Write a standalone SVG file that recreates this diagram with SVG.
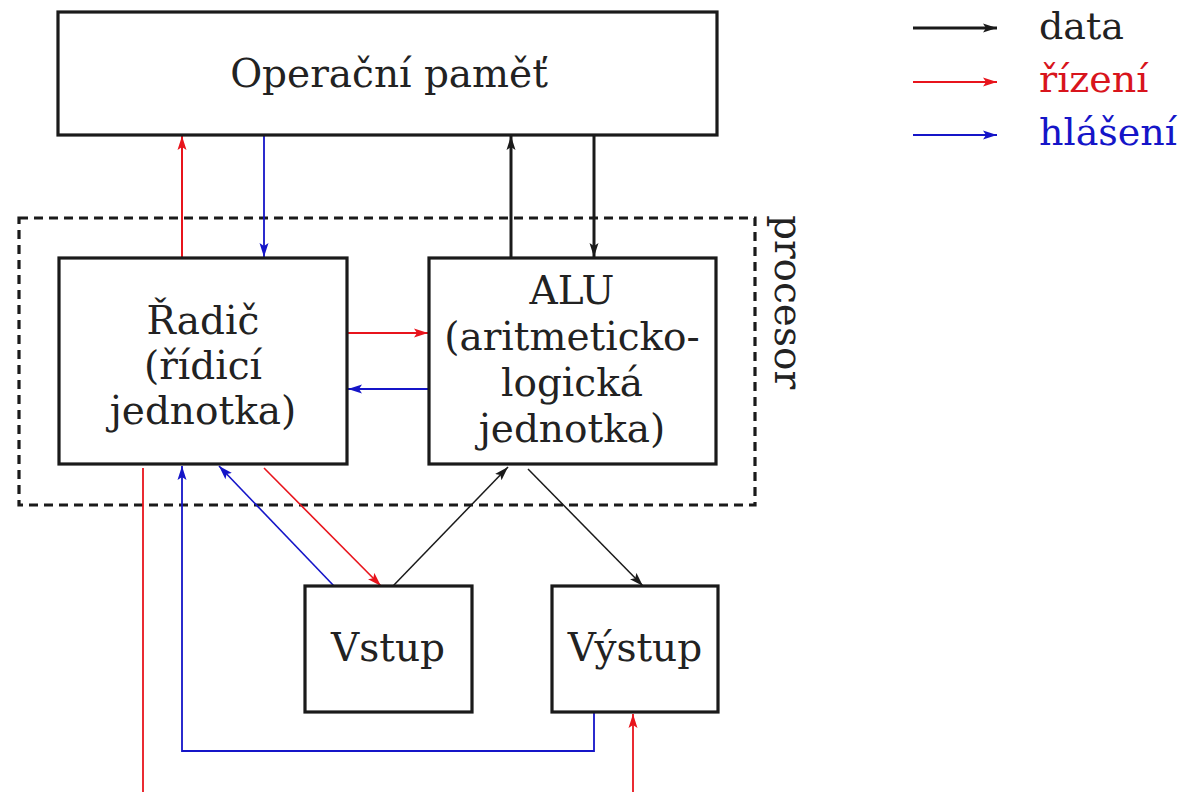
<svg xmlns="http://www.w3.org/2000/svg" width="1189" height="792" viewBox="0 0 1189 792">
  <style>
    .box { fill: #fff; stroke: #1a1a1a; stroke-width: 3.2; }
    .lbl { font-family: "DejaVu Serif", "Liberation Serif", serif; font-size: 39px; fill: #222; text-anchor: middle; }
    .leg { font-family: "DejaVu Serif", "Liberation Serif", serif; font-size: 38px; }
    .data { stroke: #1a1a1a; fill: none; }
    .ctl { stroke: #e8141c; fill: none; }
    .msg { stroke: #1515c8; fill: none; }
  </style>
  <defs>
    <marker id="ahK" markerUnits="userSpaceOnUse" markerWidth="15" markerHeight="11" refX="14" refY="5.5" orient="auto">
      <path d="M0,1 L14,5.5 L0,10 L3,5.5 z" fill="#1a1a1a"/>
    </marker>
    <marker id="ahR" markerUnits="userSpaceOnUse" markerWidth="15" markerHeight="11" refX="14" refY="5.5" orient="auto">
      <path d="M0,1 L14,5.5 L0,10 L3,5.5 z" fill="#e8141c"/>
    </marker>
    <marker id="ahB" markerUnits="userSpaceOnUse" markerWidth="15" markerHeight="11" refX="14" refY="5.5" orient="auto">
      <path d="M0,1 L14,5.5 L0,10 L3,5.5 z" fill="#1515c8"/>
    </marker>
  </defs>

  <rect width="1189" height="792" fill="#fff"/>

  <!-- processor boundary -->
  <g id="processor">
    <rect x="19" y="218" width="736" height="287" fill="none" stroke="#1a1a1a" stroke-width="3.2" stroke-dasharray="9 6"/>
    <text class="lbl" transform="translate(775,302) rotate(90)">procesor</text>
  </g>

  <!-- connectors -->
  <g id="connectors">
    <!-- memory <-> control unit -->
    <line class="ctl" x1="182" y1="257" x2="182" y2="136" stroke-width="2" marker-end="url(#ahR)"/>
    <line class="msg" x1="264" y1="135" x2="264" y2="257" stroke-width="1.8" marker-end="url(#ahB)"/>
    <!-- memory <-> ALU -->
    <line class="data" x1="511" y1="257" x2="511" y2="136" stroke-width="3" marker-end="url(#ahK)"/>
    <line class="data" x1="594" y1="135" x2="594" y2="257" stroke-width="3" marker-end="url(#ahK)"/>
    <!-- control unit <-> ALU -->
    <line class="ctl" x1="348" y1="333" x2="428" y2="333" stroke-width="1.8" marker-end="url(#ahR)"/>
    <line class="msg" x1="428" y1="389" x2="348" y2="389" stroke-width="1.8" marker-end="url(#ahB)"/>
    <!-- control unit <-> input -->
    <line class="msg" x1="334" y1="586" x2="219" y2="466" stroke-width="1.6" marker-end="url(#ahB)"/>
    <line class="ctl" x1="264" y1="468" x2="381" y2="586" stroke-width="1.6" marker-end="url(#ahR)"/>
    <!-- input -> ALU -> output -->
    <line class="data" x1="393" y1="586" x2="508" y2="467" stroke-width="1.5" marker-end="url(#ahK)"/>
    <line class="data" x1="528" y1="469" x2="643" y2="586" stroke-width="1.5" marker-end="url(#ahK)"/>
    <!-- output status back to control unit -->
    <polyline class="msg" points="594,713 594,751 182,751 182,466" stroke-width="1.8" marker-end="url(#ahB)"/>
    <!-- control of output -->
    <line class="ctl" x1="143" y1="468" x2="143" y2="792" stroke-width="1.8"/>
    <line class="ctl" x1="633" y1="792" x2="633" y2="714" stroke-width="1.8" marker-end="url(#ahR)"/>
  </g>

  <g id="memory">
    <rect class="box" x="58" y="12" width="659" height="123"/>
    <text class="lbl" x="389" y="87">Operační paměť</text>
  </g>

  <g id="control-unit">
    <rect class="box" x="59" y="258" width="288" height="206"/>
    <text class="lbl" x="203" y="334">Řadič</text>
    <text class="lbl" x="203" y="379">(řídicí</text>
    <text class="lbl" x="203" y="424">jednotka)</text>
  </g>

  <g id="alu">
    <rect class="box" x="429" y="258" width="287" height="206"/>
    <text class="lbl" x="572" y="304">ALU</text>
    <text class="lbl" x="572" y="350">(aritmeticko-</text>
    <text class="lbl" x="572" y="396">logická</text>
    <text class="lbl" x="572" y="442">jednotka)</text>
  </g>

  <g id="input">
    <rect class="box" x="305" y="586" width="167" height="126"/>
    <text class="lbl" x="388" y="661">Vstup</text>
  </g>

  <g id="output">
    <rect class="box" x="552" y="586" width="166" height="126"/>
    <text class="lbl" x="635" y="661">Výstup</text>
  </g>

  <g id="legend">
    <line class="data" x1="913" y1="28" x2="997" y2="28" stroke-width="3" marker-end="url(#ahK)"/>
    <line class="ctl" x1="913" y1="82" x2="997" y2="82" stroke-width="1.8" marker-end="url(#ahR)"/>
    <line class="msg" x1="913" y1="135" x2="997" y2="135" stroke-width="1.8" marker-end="url(#ahB)"/>
    <text class="leg" x="1039" y="39" fill="#222">data</text>
    <text class="leg" x="1039" y="92" fill="#d8141c">řízení</text>
    <text class="leg" x="1039" y="145" fill="#1515c8">hlášení</text>
  </g>
</svg>
